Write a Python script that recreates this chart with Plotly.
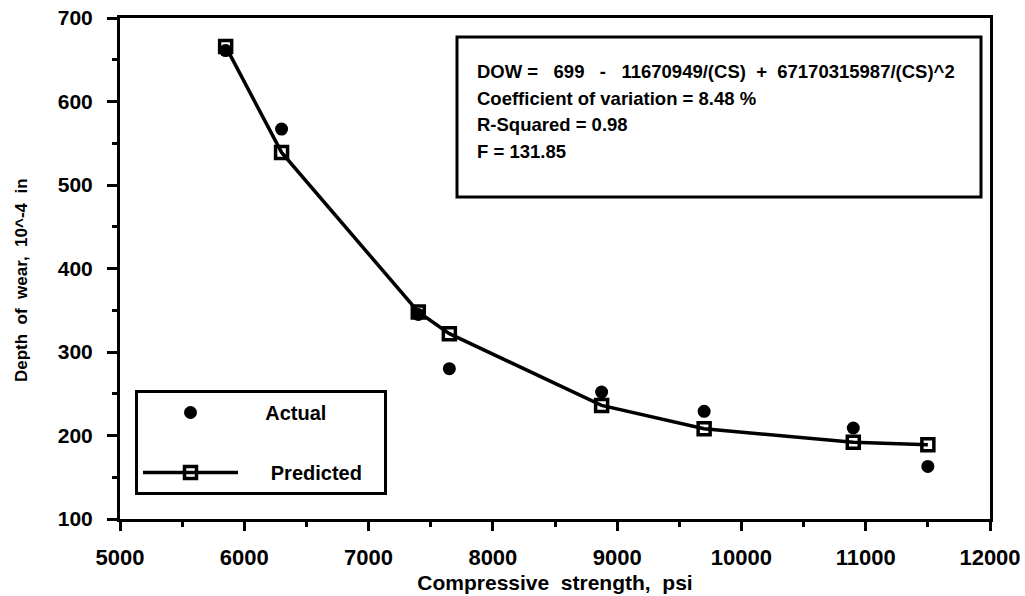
import plotly.graph_objects as go

# ---- data ----
strength = [5850, 6300, 7400, 7650, 8875, 9700, 10900, 11500]
actual = [661, 567, 345, 280, 252, 229, 209, 163]
predicted = [666, 539, 348, 322, 236, 208, 192, 189]
x_ticks = [5000, 6000, 7000, 8000, 9000, 10000, 11000, 12000]
y_ticks = [100, 200, 300, 400, 500, 600, 700]
box_lines = [
    "DOW = \u00a0\u00a0699 \u00a0\u00a0- \u00a0\u00a011670949/(CS) \u00a0+ \u00a067170315987/(CS)^2",
    "Coefficient of variation = 8.48 %",
    "R-Squared = 0.98",
    "F = 131.85",
]

W, H = 1025, 596
L, R, T, B = 120, 35, 18, 77
PW, PH = W - L - R, H - T - B


def xp(px):
    return (px - L) / PW


def yp(py):
    return (H - B - py) / PH


FONT = "Liberation Sans, Arial, Helvetica, sans-serif"

fig = go.Figure()
fig.add_trace(go.Scatter(
    x=strength, y=actual, mode="markers", name="\u00a0\u00a0\u00a0\u00a0Actual",
    marker=dict(symbol="circle", size=13, color="black"),
    legendgroup="a",
))
fig.add_trace(go.Scatter(
    x=strength, y=predicted, mode="lines+markers",
    name="\u00a0\u00a0\u00a0\u00a0\u00a0Predicted\u00a0\u00a0\u00a0",
    line=dict(color="black", width=3.5),
    marker=dict(symbol="square-open", size=12, color="black", line=dict(width=3.5, color="black")),
    legendgroup="p",
))

fig.add_shape(type="rect", xref="paper", yref="paper",
              x0=xp(457), x1=xp(981), y0=yp(197), y1=yp(37),
              line=dict(color="black", width=3), fillcolor="white", layer="below")

ys = [72, 98, 125, 152]
for txt, yy in zip(box_lines, ys):
    fig.add_annotation(x=xp(475), y=yp(yy), xref="paper", yref="paper",
                       text=txt, showarrow=False, xanchor="left", yanchor="middle",
                       font=dict(family=FONT, size=18.5, color="black", weight="bold"))

# y-axis title placed as rotated text
fig.add_annotation(x=xp(21), y=yp(280), xref="paper", yref="paper",
                   text="Depth\u00a0 of\u00a0 wear,\u00a0 10^-4\u00a0 in", textangle=-90,
                   showarrow=False, xanchor="center", yanchor="middle",
                   font=dict(family=FONT, size=17, color="black", weight="bold"))

axis_common = dict(
    showline=True, linewidth=3, linecolor="black", mirror=True,
    ticks="outside", tickwidth=3, tickcolor="black",
    showgrid=False, zeroline=False,
)

fig.update_layout(
    width=W, height=H,
    margin=dict(l=L, r=R, t=T, b=B, autoexpand=False),
    paper_bgcolor="white", plot_bgcolor="white",
    font=dict(family=FONT, color="black", weight="bold"),
    showlegend=True,
    legend=dict(
        x=xp(135), y=yp(390), xanchor="left", yanchor="top",
        bgcolor="white", bordercolor="black", borderwidth=3,
        font=dict(family=FONT, size=20, color="black", weight="bold"),
        itemwidth=95, tracegroupgap=31, traceorder="grouped",
    ),
    xaxis=dict(
        range=[5000, 12000], tickvals=x_ticks, ticktext=[str(v) for v in x_ticks], ticklen=9,
        minor=dict(dtick=500, ticks="outside", ticklen=5, tickwidth=3, tickcolor="black"),
        ticklabelstandoff=8,
        tickfont=dict(family=FONT, size=22, color="black", weight="bold"),
        title=dict(text="Compressive\u00a0 strength,\u00a0 psi",
                   font=dict(family=FONT, size=21, color="black", weight="bold"), standoff=6),
        **axis_common,
    ),
    yaxis=dict(
        range=[100, 700], tickvals=y_ticks, ticktext=[str(v) for v in y_ticks], ticklen=10,
        minor=dict(dtick=50, ticks="outside", ticklen=5, tickwidth=3, tickcolor="black"),
        ticklabelstandoff=10,
        tickfont=dict(family=FONT, size=21, color="black", weight="bold"),
        **axis_common,
    ),
)

fig.write_html("out.html")
